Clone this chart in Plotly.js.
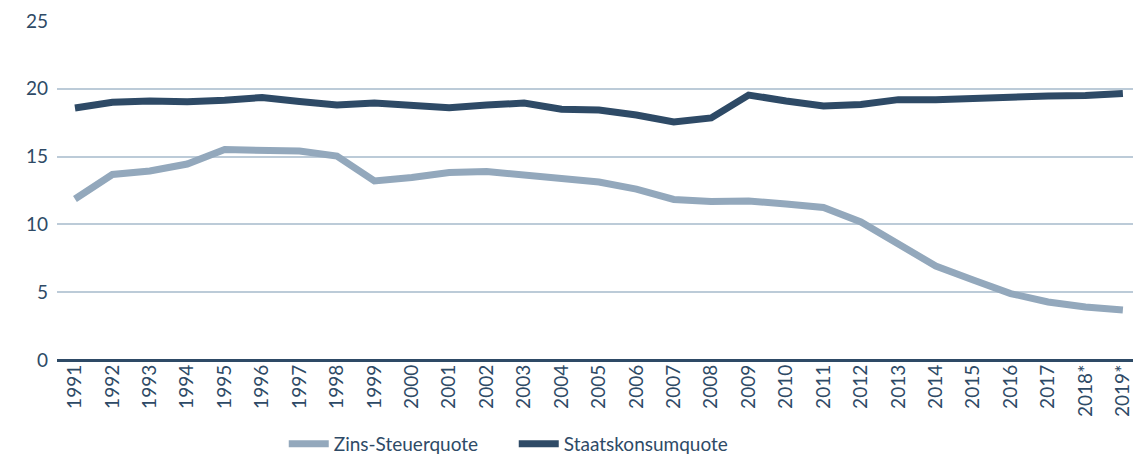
<!DOCTYPE html>
<html><head><meta charset="utf-8">
<script src="https://cdn.plot.ly/plotly-3.0.1.min.js"></script>
<style>html,body{margin:0;padding:0;background:#fff}#chart{width:1135px;height:458px}</style>
</head><body><div id="chart"></div>
<script>
const years = ["1991","1992","1993","1994","1995","1996","1997","1998","1999","2000","2001","2002","2003","2004","2005","2006","2007","2008","2009","2010","2011","2012","2013","2014","2015","2016","2017","2018*","2019*"];
const zinsSteuerquote = [11.87,13.68,13.94,14.45,15.52,15.52,15.41,15.04,13.2,13.46,13.83,13.9,13.68,13.42,13.13,12.6,11.84,11.69,11.73,11.5,11.25,10.18,8.48,6.93,5.9,4.9,4.28,3.91,3.69];
const staatskonsumquote = [18.58,19.0,19.1,19.05,19.15,19.36,19.06,18.8,18.95,18.73,18.6,18.8,18.95,18.5,18.43,18.07,17.55,17.85,19.54,19.1,18.73,18.85,19.2,19.2,19.28,19.47,19.47,19.5,19.65];
const seriesNames = ["Zins-Steuerquote","Staatskonsumquote"];

const dark = "#2e4a66", light = "#93a8bc";
const traces = [
  {x: years, y: zinsSteuerquote, name: seriesNames[0], type: "scatter", mode: "lines",
   line: {color: light, width: 7}},
  {x: years, y: staatskonsumquote, name: seriesNames[1], type: "scatter", mode: "lines",
   line: {color: dark, width: 7}}
];
const layout = {
  width: 1135, height: 458,
  margin: {l: 57, r: 2, t: 21, b: 98, autoexpand: false},
  paper_bgcolor: "#fff", plot_bgcolor: "#fff",
  font: {family: "Lato, 'Open Sans', sans-serif", color: dark, size: 18},
  showlegend: true,
  legend: {orientation: "h", x: 0.25, xanchor: "left", xref: "container",
           y: 0.031, yanchor: "middle", yref: "container",
           font: {size: 19, color: dark}, itemwidth: 40, entrywidth: 175},
  xaxis: {type: "category", range: [-0.48, 28.27], tickangle: -90, showgrid: false,
          showline: false, zeroline: false, ticks: "", automargin: false,
          tickfont: {size: 19, color: dark}},
  yaxis: {range: [0, 25], dtick: 5, showgrid: true, gridcolor: "#bccbd8", gridwidth: 1.5,
          zeroline: true, zerolinecolor: dark, zerolinewidth: 3, showline: false, automargin: false,
          ticks: "", tickfont: {size: 19, color: dark}, ticklabelstandoff: 8}
};
Plotly.newPlot("chart", traces, layout, {displayModeBar: false});
</script></body></html>
